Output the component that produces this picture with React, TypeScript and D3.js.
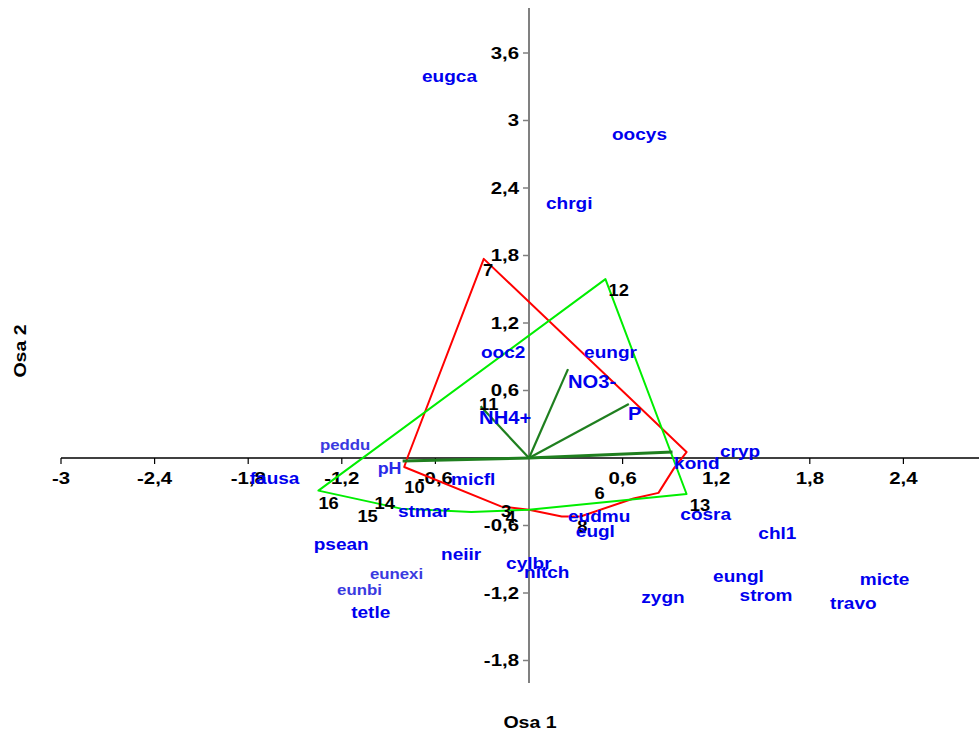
import React from "react";
import * as d3 from "d3";

// Species scores (label anchor = left edge, vertical middle of the name)
const speciesNames = [
  "eugca", "oocys", "chrgi", "ooc2", "eungr", "cryp", "fausa", "micfl",
  "stmar", "psean", "neiir", "tetle", "cylbr", "nitch", "eudmu", "eugl",
  "cosra", "chl1", "zygn", "eungl", "strom", "micte", "travo",
];
const speciesX = [
  -0.686, 0.532, 0.109, -0.308, 0.353, 1.224, -1.79, -0.5,
  -0.84, -1.38, -0.564, -1.14, -0.147, -0.032, 0.25, 0.3,
  0.97, 1.47, 0.72, 1.18, 1.35, 2.12, 1.93,
];
const speciesY = [
  3.39, 2.88, 2.26, 0.94, 0.94, 0.06, -0.18, -0.19,
  -0.47, -0.77, -0.86, -1.37, -0.94, -1.02, -0.52, -0.65,
  -0.5, -0.67, -1.24, -1.05, -1.22, -1.08, -1.29,
];

// Rarer species, printed smaller and paler
const minorNames = ["peddu", "eunexi", "eunbi"];
const minorX = [-1.34, -1.02, -1.23];
const minorY = [0.12, -1.03, -1.17];

// Environmental variables: arrow tips and label anchors
const envNames = ["NO3-", "P", "NH4+", "kond", "pH"];
const envTipX = [0.25, 0.64, -0.31, 0.92, -0.81];
const envTipY = [0.79, 0.48, 0.46, 0.053, -0.027];
const envLabelX = [0.25, 0.635, -0.32, 0.93, -0.97];
const envLabelY = [0.68, 0.39, 0.36, -0.05, -0.1];

// Sample numbers
const sampleNames = ["7", "12", "11", "10", "16", "14", "15", "3", "4", "6", "8", "13"];
const sampleX = [-0.295, 0.51, -0.32, -0.8, -1.35, -0.99, -1.1, -0.18, -0.15, 0.42, 0.31, 1.03];
const sampleY = [1.67, 1.49, 0.48, -0.26, -0.4, -0.4, -0.52, -0.47, -0.53, -0.31, -0.61, -0.42];

// Envelope of the first sample group (red)
const redHullX = [-0.29, 1.01, 0.93, 0.83, 0.67, 0.33, 0.21, 0, -0.18, -0.8, -0.78];
const redHullY = [1.77, 0.053, -0.09, -0.31, -0.36, -0.52, -0.52, -0.46, -0.43, -0.08, 0.0];

// Envelope of the second sample group (green)
const greenHullX = [0.49, 1.01, 0, -0.37, -0.82, -1.35];
const greenHullY = [1.59, -0.32, -0.46, -0.48, -0.45, -0.29];

// Axis ticks
const xTicks = [-3, -2.4, -1.8, -1.2, -0.6, 0.6, 1.2, 1.8, 2.4];
const xTickLabels = ["-3", "-2,4", "-1,8", "-1,2", "-0,6", "0,6", "1,2", "1,8", "2,4"];
const yTicks = [3.6, 3, 2.4, 1.8, 1.2, 0.6, -0.6, -1.2, -1.8];
const yTickLabels = ["3,6", "3", "2,4", "1,8", "1,2", "0,6", "-0,6", "-1,2", "-1,8"];

const W = 979;
const H = 735;
const FONT = "'Liberation Sans', Arial, Helvetica, sans-serif";

const x = d3.scaleLinear().domain([-3, 3]).range([61, 997]);
const y = d3.scaleLinear().domain([4, -2]).range([8, 683]);

type LabelProps = {
  px: number;
  py: number;
  text: string;
  size: number;
  fill: string;
  sx?: number;
  anchor?: "start" | "middle" | "end";
  rotate?: number;
};

function Label({ px, py, text, size, fill, sx = 1.12, anchor = "start", rotate = 0 }: LabelProps) {
  return (
    <text
      transform={`translate(${px},${py}) rotate(${rotate}) scale(${sx},1)`}
      textAnchor={anchor}
      dominantBaseline="central"
      fontFamily={FONT}
      fontWeight="bold"
      fontSize={size}
      fill={fill}
    >
      {text}
    </text>
  );
}

export default function App() {
  const hull = d3
    .line<[number, number]>()
    .x((d) => x(d[0]))
    .y((d) => y(d[1]))
    .curve(d3.curveLinearClosed);

  const redPts = redHullX.map((v, i) => [v, redHullY[i]] as [number, number]);
  const greenPts = greenHullX.map((v, i) => [v, greenHullY[i]] as [number, number]);

  return (
    <svg
      width={W}
      height={H}
      style={{ position: "fixed", left: 0, top: 0, background: "#fff" }}
    >
      <rect x={0} y={0} width={W} height={H} fill="#fff" />

      {/* axes through the origin */}
      <line x1={x(-3)} x2={W} y1={y(0)} y2={y(0)} stroke="#000" strokeWidth={1.6} />
      <line x1={x(0)} x2={x(0)} y1={y(4)} y2={y(-2)} stroke="#808080" strokeWidth={2} />

      {xTicks.map((t, i) => (
        <g key={"xt" + i}>
          <line x1={x(t)} x2={x(t)} y1={y(0)} y2={y(0) + 6} stroke="#000" strokeWidth={1.2} />
          <Label px={x(t)} py={y(0) + 20} text={xTickLabels[i]} size={17} fill="#000" sx={1.2} anchor="middle" />
        </g>
      ))}
      {yTicks.map((t, i) => (
        <g key={"yt" + i}>
          <line x1={x(0) - 6} x2={x(0)} y1={y(t)} y2={y(t)} stroke="#808080" strokeWidth={1.5} />
          <Label px={x(0) - 10} py={y(t)} text={yTickLabels[i]} size={17} fill="#000" sx={1.2} anchor="end" />
        </g>
      ))}

      {/* group envelopes */}
      <path d={hull(redPts) ?? ""} fill="none" stroke="#ff0000" strokeWidth={2} strokeLinejoin="round" />
      <path d={hull(greenPts) ?? ""} fill="none" stroke="#00ee00" strokeWidth={2} strokeLinejoin="round" />

      {/* environmental vectors */}
      {envNames.map((n, i) => (
        <line
          key={"ev" + n}
          x1={x(0)}
          y1={y(0)}
          x2={x(envTipX[i])}
          y2={y(envTipY[i])}
          stroke="#1f7f1f"
          strokeWidth={n === "kond" || n === "pH" ? 3 : 2.2}
        />
      ))}

      {/* sample numbers */}
      {sampleNames.map((s, i) => (
        <Label key={"s" + i} px={x(sampleX[i])} py={y(sampleY[i])} text={s} size={17} fill="#000" sx={1.08} />
      ))}

      {/* species */}
      {speciesNames.map((s, i) => (
        <Label key={"sp" + s} px={x(speciesX[i])} py={y(speciesY[i])} text={s} size={17} fill="#0000ee" />
      ))}
      {minorNames.map((s, i) => (
        <Label key={"mn" + s} px={x(minorX[i])} py={y(minorY[i])} text={s} size={15} fill="#3a3ae0" />
      ))}

      {/* environmental labels */}
      {envNames.map((n, i) => (
        <Label
          key={"el" + n}
          px={x(envLabelX[i])}
          py={y(envLabelY[i])}
          text={n}
          size={n === "pH" ? 16 : n === "kond" ? 17 : 18}
          fill={n === "pH" ? "#2a2ae8" : "#0000ee"}
        />
      ))}

      {/* axis titles */}
      <Label px={530} py={722} text="Osa 1" size={17} fill="#000" sx={1.15} anchor="middle" />
      <Label px={20} py={351} text="Osa 2" size={17} fill="#000" sx={1.15} anchor="middle" rotate={-90} />
    </svg>
  );
}
